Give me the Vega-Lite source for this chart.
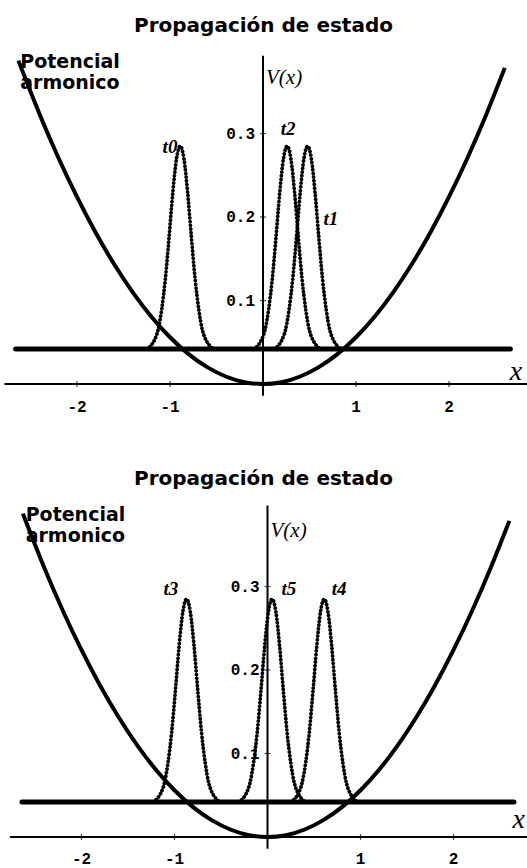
{
  "$schema": "https://vega.github.io/schema/vega-lite/v6.json",
  "padding": {"top": 16, "left": 0, "right": 0, "bottom": 0},
  "spacing": 53,
  "background": "white",
  "config": {
    "view": {"stroke": null},
    "title": {"font": "DejaVu Sans", "fontWeight": "bold", "fontSize": 20, "color": "#000", "anchor": "middle", "offset": 5}
  },
  "datasets": {
    "potencial": [
      {"x": -2.63, "v": 0.3873}, {"x": -2.4, "v": 0.3226}, {"x": -2.2, "v": 0.271}, {"x": -2.0, "v": 0.224},
      {"x": -1.8, "v": 0.1814}, {"x": -1.6, "v": 0.1434}, {"x": -1.4, "v": 0.1098}, {"x": -1.2, "v": 0.0806},
      {"x": -1.0, "v": 0.056}, {"x": -0.8, "v": 0.0358}, {"x": -0.6, "v": 0.0202}, {"x": -0.4, "v": 0.009},
      {"x": -0.2, "v": 0.0022}, {"x": 0, "v": 0}, {"x": 0.2, "v": 0.0022}, {"x": 0.4, "v": 0.009},
      {"x": 0.6, "v": 0.0202}, {"x": 0.8, "v": 0.0358}, {"x": 1.0, "v": 0.056}, {"x": 1.2, "v": 0.0806},
      {"x": 1.4, "v": 0.1098}, {"x": 1.6, "v": 0.1434}, {"x": 1.8, "v": 0.1814}, {"x": 2.0, "v": 0.224},
      {"x": 2.2, "v": 0.271}, {"x": 2.4, "v": 0.3226}, {"x": 2.6, "v": 0.3786}
    ],
    "estados_a": [
      {"t": "t0", "x": -1.25, "p": 0.042}, {"t": "t0", "x": -1.21, "p": 0.0455}, {"t": "t0", "x": -1.17, "p": 0.052},
      {"t": "t0", "x": -1.13, "p": 0.064}, {"t": "t0", "x": -1.09, "p": 0.089}, {"t": "t0", "x": -1.05, "p": 0.126},
      {"t": "t0", "x": -1.01, "p": 0.176}, {"t": "t0", "x": -0.97, "p": 0.229}, {"t": "t0", "x": -0.93, "p": 0.27},
      {"t": "t0", "x": -0.91, "p": 0.281}, {"t": "t0", "x": -0.89, "p": 0.285}, {"t": "t0", "x": -0.87, "p": 0.281},
      {"t": "t0", "x": -0.85, "p": 0.27}, {"t": "t0", "x": -0.81, "p": 0.229}, {"t": "t0", "x": -0.77, "p": 0.176},
      {"t": "t0", "x": -0.73, "p": 0.126}, {"t": "t0", "x": -0.69, "p": 0.089}, {"t": "t0", "x": -0.65, "p": 0.064},
      {"t": "t0", "x": -0.61, "p": 0.052}, {"t": "t0", "x": -0.57, "p": 0.0455}, {"t": "t0", "x": -0.53, "p": 0.042},
      {"t": "t2", "x": -0.1, "p": 0.042}, {"t": "t2", "x": -0.06, "p": 0.0455}, {"t": "t2", "x": -0.02, "p": 0.052},
      {"t": "t2", "x": 0.02, "p": 0.064}, {"t": "t2", "x": 0.06, "p": 0.089}, {"t": "t2", "x": 0.1, "p": 0.126},
      {"t": "t2", "x": 0.14, "p": 0.176}, {"t": "t2", "x": 0.18, "p": 0.229}, {"t": "t2", "x": 0.22, "p": 0.27},
      {"t": "t2", "x": 0.24, "p": 0.281}, {"t": "t2", "x": 0.26, "p": 0.285}, {"t": "t2", "x": 0.28, "p": 0.281},
      {"t": "t2", "x": 0.3, "p": 0.27}, {"t": "t2", "x": 0.34, "p": 0.229}, {"t": "t2", "x": 0.38, "p": 0.176},
      {"t": "t2", "x": 0.42, "p": 0.126}, {"t": "t2", "x": 0.46, "p": 0.089}, {"t": "t2", "x": 0.5, "p": 0.064},
      {"t": "t2", "x": 0.54, "p": 0.052}, {"t": "t2", "x": 0.58, "p": 0.0455}, {"t": "t2", "x": 0.62, "p": 0.042},
      {"t": "t1", "x": 0.12, "p": 0.042}, {"t": "t1", "x": 0.16, "p": 0.0455}, {"t": "t1", "x": 0.2, "p": 0.052},
      {"t": "t1", "x": 0.24, "p": 0.064}, {"t": "t1", "x": 0.28, "p": 0.089}, {"t": "t1", "x": 0.32, "p": 0.126},
      {"t": "t1", "x": 0.36, "p": 0.176}, {"t": "t1", "x": 0.4, "p": 0.229}, {"t": "t1", "x": 0.44, "p": 0.27},
      {"t": "t1", "x": 0.46, "p": 0.281}, {"t": "t1", "x": 0.48, "p": 0.285}, {"t": "t1", "x": 0.5, "p": 0.281},
      {"t": "t1", "x": 0.52, "p": 0.27}, {"t": "t1", "x": 0.56, "p": 0.229}, {"t": "t1", "x": 0.6, "p": 0.176},
      {"t": "t1", "x": 0.64, "p": 0.126}, {"t": "t1", "x": 0.68, "p": 0.089}, {"t": "t1", "x": 0.72, "p": 0.064},
      {"t": "t1", "x": 0.76, "p": 0.052}, {"t": "t1", "x": 0.8, "p": 0.0455}, {"t": "t1", "x": 0.84, "p": 0.042}
    ],
    "estados_b": [
      {"t": "t3", "x": -1.23, "p": 0.042}, {"t": "t3", "x": -1.19, "p": 0.0455}, {"t": "t3", "x": -1.15, "p": 0.052},
      {"t": "t3", "x": -1.11, "p": 0.064}, {"t": "t3", "x": -1.07, "p": 0.089}, {"t": "t3", "x": -1.03, "p": 0.126},
      {"t": "t3", "x": -0.99, "p": 0.176}, {"t": "t3", "x": -0.95, "p": 0.229}, {"t": "t3", "x": -0.91, "p": 0.27},
      {"t": "t3", "x": -0.89, "p": 0.281}, {"t": "t3", "x": -0.87, "p": 0.285}, {"t": "t3", "x": -0.85, "p": 0.281},
      {"t": "t3", "x": -0.83, "p": 0.27}, {"t": "t3", "x": -0.79, "p": 0.229}, {"t": "t3", "x": -0.75, "p": 0.176},
      {"t": "t3", "x": -0.71, "p": 0.126}, {"t": "t3", "x": -0.67, "p": 0.089}, {"t": "t3", "x": -0.63, "p": 0.064},
      {"t": "t3", "x": -0.59, "p": 0.052}, {"t": "t3", "x": -0.55, "p": 0.0455}, {"t": "t3", "x": -0.51, "p": 0.042},
      {"t": "t5", "x": -0.31, "p": 0.042}, {"t": "t5", "x": -0.27, "p": 0.0455}, {"t": "t5", "x": -0.23, "p": 0.052},
      {"t": "t5", "x": -0.19, "p": 0.064}, {"t": "t5", "x": -0.15, "p": 0.089}, {"t": "t5", "x": -0.11, "p": 0.126},
      {"t": "t5", "x": -0.07, "p": 0.176}, {"t": "t5", "x": -0.03, "p": 0.229}, {"t": "t5", "x": 0.01, "p": 0.27},
      {"t": "t5", "x": 0.03, "p": 0.281}, {"t": "t5", "x": 0.05, "p": 0.285}, {"t": "t5", "x": 0.07, "p": 0.281},
      {"t": "t5", "x": 0.09, "p": 0.27}, {"t": "t5", "x": 0.13, "p": 0.229}, {"t": "t5", "x": 0.17, "p": 0.176},
      {"t": "t5", "x": 0.21, "p": 0.126}, {"t": "t5", "x": 0.25, "p": 0.089}, {"t": "t5", "x": 0.29, "p": 0.064},
      {"t": "t5", "x": 0.33, "p": 0.052}, {"t": "t5", "x": 0.37, "p": 0.0455}, {"t": "t5", "x": 0.41, "p": 0.042},
      {"t": "t4", "x": 0.25, "p": 0.042}, {"t": "t4", "x": 0.29, "p": 0.0455}, {"t": "t4", "x": 0.33, "p": 0.052},
      {"t": "t4", "x": 0.37, "p": 0.064}, {"t": "t4", "x": 0.41, "p": 0.089}, {"t": "t4", "x": 0.45, "p": 0.126},
      {"t": "t4", "x": 0.49, "p": 0.176}, {"t": "t4", "x": 0.53, "p": 0.229}, {"t": "t4", "x": 0.57, "p": 0.27},
      {"t": "t4", "x": 0.59, "p": 0.281}, {"t": "t4", "x": 0.61, "p": 0.285}, {"t": "t4", "x": 0.63, "p": 0.281},
      {"t": "t4", "x": 0.65, "p": 0.27}, {"t": "t4", "x": 0.69, "p": 0.229}, {"t": "t4", "x": 0.73, "p": 0.176},
      {"t": "t4", "x": 0.77, "p": 0.126}, {"t": "t4", "x": 0.81, "p": 0.089}, {"t": "t4", "x": 0.85, "p": 0.064},
      {"t": "t4", "x": 0.89, "p": 0.052}, {"t": "t4", "x": 0.93, "p": 0.0455}, {"t": "t4", "x": 0.97, "p": 0.042}
    ],
    "etiquetas_a": [
      {"label": "t0", "x": -1.0, "y": 0.284},
      {"label": "t2", "x": 0.27, "y": 0.305},
      {"label": "t1", "x": 0.73, "y": 0.198}
    ],
    "etiquetas_b": [
      {"label": "t3", "x": -1.04, "y": 0.297},
      {"label": "t5", "x": 0.23, "y": 0.297},
      {"label": "t4", "x": 0.77, "y": 0.297}
    ],
    "xticks": [{"x": -2, "label": "-2"}, {"x": -1, "label": "-1"}, {"x": 1, "label": "1"}, {"x": 2, "label": "2"}],
    "yticks": [{"y": 0.1, "label": "0.1"}, {"y": 0.2, "label": "0.2"}, {"y": 0.3, "label": "0.3"}]
  },
  "vconcat": [
    {
      "title": "Propagación de estado",
      "width": 527,
      "height": 375,
      "layer": [
        {
          "data": {"values": [{"x1": -2.78, "x2": 2.84, "y1": 0, "y2": 0}, {"x1": 0, "x2": 0, "y1": -0.014, "y2": 0.393}]},
          "mark": {"type": "rule", "color": "#000", "strokeWidth": 2},
          "encoding": {
            "x": {"field": "x1", "type": "quantitative", "scale": {"domain": [-2.828, 2.839], "nice": false, "zero": false}, "axis": null},
            "x2": {"field": "x2"},
            "y": {"field": "y1", "type": "quantitative", "scale": {"domain": [-0.0383, 0.4108], "nice": false, "zero": false}, "axis": null},
            "y2": {"field": "y2"}
          }
        },
        {
          "data": {"name": "xticks"},
          "mark": {"type": "tick", "orient": "vertical", "color": "#000", "size": 6, "thickness": 1.2},
          "encoding": {"x": {"field": "x", "type": "quantitative"}, "y": {"datum": 0, "type": "quantitative"}}
        },
        {
          "data": {"name": "yticks"},
          "mark": {"type": "tick", "orient": "horizontal", "color": "#000", "size": 6, "thickness": 1.2},
          "encoding": {"y": {"field": "y", "type": "quantitative"}, "x": {"datum": 0, "type": "quantitative"}}
        },
        {
          "data": {"name": "xticks"},
          "mark": {"type": "text", "font": "Liberation Mono", "fontWeight": "bold", "fontSize": 16, "baseline": "middle", "align": "center"},
          "encoding": {"x": {"field": "x", "type": "quantitative"}, "y": {"datum": -0.027, "type": "quantitative"}, "text": {"field": "label"}}
        },
        {
          "data": {"name": "yticks"},
          "mark": {"type": "text", "font": "Liberation Mono", "fontWeight": "bold", "fontSize": 16, "baseline": "middle", "align": "right", "dx": -8},
          "encoding": {"y": {"field": "y", "type": "quantitative"}, "x": {"datum": 0, "type": "quantitative"}, "text": {"field": "label"}}
        },
        {
          "data": {"values": [{"x1": -2.66, "x2": 2.66, "y": 0.042}]},
          "mark": {"type": "rule", "color": "#000", "strokeWidth": 5, "strokeCap": "round"},
          "encoding": {"x": {"field": "x1", "type": "quantitative"}, "x2": {"field": "x2"}, "y": {"field": "y", "type": "quantitative"}}
        },
        {
          "data": {"name": "potencial"},
          "mark": {"type": "line", "color": "#000", "strokeWidth": 4, "interpolate": "monotone"},
          "encoding": {"x": {"field": "x", "type": "quantitative"}, "y": {"field": "v", "type": "quantitative"}}
        },
        {
          "data": {"name": "estados_a"},
          "mark": {"type": "line", "color": "#000", "strokeWidth": 3.8, "strokeCap": "round", "strokeDash": [0.1, 3.6], "interpolate": "monotone"},
          "encoding": {"x": {"field": "x", "type": "quantitative"}, "y": {"field": "p", "type": "quantitative"}, "detail": {"field": "t"}}
        },
        {
          "data": {"name": "etiquetas_a"},
          "mark": {"type": "text", "font": "Liberation Serif", "fontStyle": "italic", "fontWeight": "bold", "fontSize": 19, "baseline": "middle", "align": "center"},
          "encoding": {"x": {"field": "x", "type": "quantitative"}, "y": {"field": "y", "type": "quantitative"}, "text": {"field": "label"}}
        },
        {
          "data": {"values": [{"x": 0, "y": 0.367, "label": "V(x)"}]},
          "mark": {"type": "text", "font": "Liberation Serif", "fontStyle": "italic", "fontSize": 21, "baseline": "middle", "align": "left", "dx": 3},
          "encoding": {"x": {"field": "x", "type": "quantitative"}, "y": {"field": "y", "type": "quantitative"}, "text": {"field": "label"}}
        },
        {
          "data": {"values": [{"x": 2.72, "y": 0.0144, "label": "x"}]},
          "mark": {"type": "text", "font": "Liberation Serif", "fontStyle": "italic", "fontSize": 28, "baseline": "middle", "align": "center"},
          "encoding": {"x": {"field": "x", "type": "quantitative"}, "y": {"field": "y", "type": "quantitative"}, "text": {"field": "label"}}
        },
        {
          "data": {"values": [{"x": -2.61, "y": 0.396, "label": "Potencial\narmonico"}]},
          "mark": {"type": "text", "font": "DejaVu Sans", "fontWeight": "bold", "fontSize": 19, "lineHeight": 21, "lineBreak": "\n", "baseline": "top", "align": "left"},
          "encoding": {"x": {"field": "x", "type": "quantitative"}, "y": {"field": "y", "type": "quantitative"}, "text": {"field": "label"}}
        }
      ]
    },
    {
      "title": "Propagación de estado",
      "width": 527,
      "height": 375,
      "layer": [
        {
          "data": {"values": [{"x1": -2.77, "x2": 2.8, "y1": 0, "y2": 0}, {"x1": 0, "x2": 0, "y1": -0.014, "y2": 0.397}]},
          "mark": {"type": "rule", "color": "#000", "strokeWidth": 2},
          "encoding": {
            "x": {"field": "x1", "type": "quantitative", "scale": {"domain": [-2.876, 2.79], "nice": false, "zero": false}, "axis": null},
            "x2": {"field": "x2"},
            "y": {"field": "y1", "type": "quantitative", "scale": {"domain": [-0.0383, 0.4108], "nice": false, "zero": false}, "axis": null},
            "y2": {"field": "y2"}
          }
        },
        {
          "data": {"name": "xticks"},
          "mark": {"type": "tick", "orient": "vertical", "color": "#000", "size": 6, "thickness": 1.2},
          "encoding": {"x": {"field": "x", "type": "quantitative"}, "y": {"datum": 0, "type": "quantitative"}}
        },
        {
          "data": {"name": "yticks"},
          "mark": {"type": "tick", "orient": "horizontal", "color": "#000", "size": 6, "thickness": 1.2},
          "encoding": {"y": {"field": "y", "type": "quantitative"}, "x": {"datum": 0, "type": "quantitative"}}
        },
        {
          "data": {"name": "xticks"},
          "mark": {"type": "text", "font": "Liberation Mono", "fontWeight": "bold", "fontSize": 16, "baseline": "middle", "align": "center"},
          "encoding": {"x": {"field": "x", "type": "quantitative"}, "y": {"datum": -0.026, "type": "quantitative"}, "text": {"field": "label"}}
        },
        {
          "data": {"name": "yticks"},
          "mark": {"type": "text", "font": "Liberation Mono", "fontWeight": "bold", "fontSize": 16, "baseline": "middle", "align": "right", "dx": -8},
          "encoding": {"y": {"field": "y", "type": "quantitative"}, "x": {"datum": 0, "type": "quantitative"}, "text": {"field": "label"}}
        },
        {
          "data": {"values": [{"x1": -2.64, "x2": 2.65, "y": 0.042}]},
          "mark": {"type": "rule", "color": "#000", "strokeWidth": 5, "strokeCap": "round"},
          "encoding": {"x": {"field": "x1", "type": "quantitative"}, "x2": {"field": "x2"}, "y": {"field": "y", "type": "quantitative"}}
        },
        {
          "data": {"name": "potencial"},
          "mark": {"type": "line", "color": "#000", "strokeWidth": 4, "interpolate": "monotone"},
          "encoding": {"x": {"field": "x", "type": "quantitative"}, "y": {"field": "v", "type": "quantitative"}}
        },
        {
          "data": {"name": "estados_b"},
          "mark": {"type": "line", "color": "#000", "strokeWidth": 3.8, "strokeCap": "round", "strokeDash": [0.1, 3.6], "interpolate": "monotone"},
          "encoding": {"x": {"field": "x", "type": "quantitative"}, "y": {"field": "p", "type": "quantitative"}, "detail": {"field": "t"}}
        },
        {
          "data": {"name": "etiquetas_b"},
          "mark": {"type": "text", "font": "Liberation Serif", "fontStyle": "italic", "fontWeight": "bold", "fontSize": 19, "baseline": "middle", "align": "center"},
          "encoding": {"x": {"field": "x", "type": "quantitative"}, "y": {"field": "y", "type": "quantitative"}, "text": {"field": "label"}}
        },
        {
          "data": {"values": [{"x": 0, "y": 0.367, "label": "V(x)"}]},
          "mark": {"type": "text", "font": "Liberation Serif", "fontStyle": "italic", "fontSize": 21, "baseline": "middle", "align": "left", "dx": 3},
          "encoding": {"x": {"field": "x", "type": "quantitative"}, "y": {"field": "y", "type": "quantitative"}, "text": {"field": "label"}}
        },
        {
          "data": {"values": [{"x": 2.7, "y": 0.02, "label": "x"}]},
          "mark": {"type": "text", "font": "Liberation Serif", "fontStyle": "italic", "fontSize": 28, "baseline": "middle", "align": "center"},
          "encoding": {"x": {"field": "x", "type": "quantitative"}, "y": {"field": "y", "type": "quantitative"}, "text": {"field": "label"}}
        },
        {
          "data": {"values": [{"x": -2.6, "y": 0.396, "label": "Potencial\narmonico"}]},
          "mark": {"type": "text", "font": "DejaVu Sans", "fontWeight": "bold", "fontSize": 19, "lineHeight": 21, "lineBreak": "\n", "baseline": "top", "align": "left"},
          "encoding": {"x": {"field": "x", "type": "quantitative"}, "y": {"field": "y", "type": "quantitative"}, "text": {"field": "label"}}
        }
      ]
    }
  ]
}
